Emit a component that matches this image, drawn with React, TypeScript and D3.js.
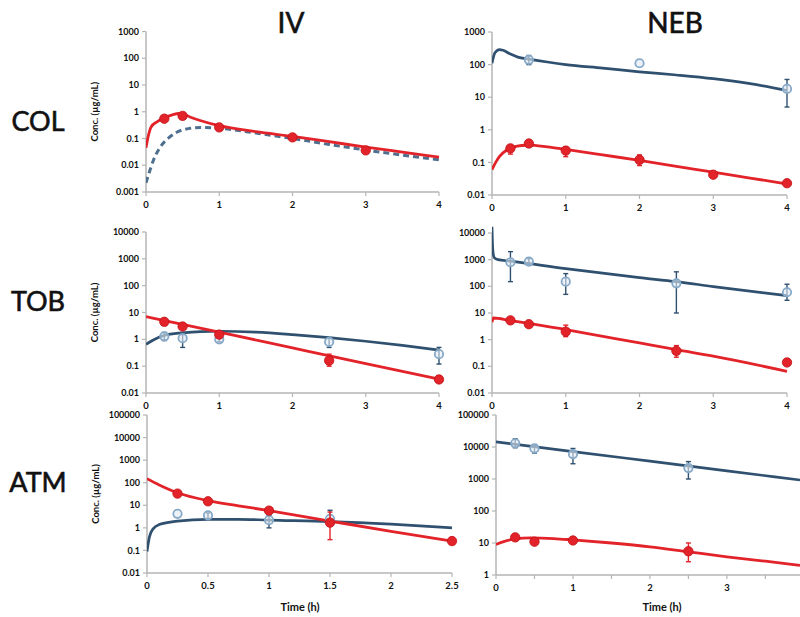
import React from "react";
import * as d3 from "d3";

type Pt = [number, number];
type Obs = [number, number, number?, number?];

// ---------- COL ----------
const colIvRedCurve: Pt[] = [[0, 0.045], [0.03, 0.12], [0.07, 0.27], [0.15, 0.42], [0.25, 0.6], [0.35, 0.75], [0.45, 0.86], [0.5, 0.84], [0.6, 0.64], [0.75, 0.46], [1, 0.3], [1.5, 0.18], [2, 0.12], [2.5, 0.076], [3, 0.048], [3.5, 0.031], [4, 0.02]];
const colIvDashCurve: Pt[] = [[0, 0.0022], [0.05, 0.006], [0.1, 0.015], [0.2, 0.05], [0.3, 0.1], [0.4, 0.16], [0.5, 0.21], [0.6, 0.24], [0.75, 0.26], [1, 0.24], [1.5, 0.16], [2, 0.1], [2.5, 0.06], [3, 0.037], [3.5, 0.024], [4, 0.016]];
const colIvRedObs: Obs[] = [[0.25, 0.55], [0.5, 0.7], [1, 0.26], [2, 0.11], [3, 0.036]];
const colNebBlueCurve: Pt[] = [[0, 110], [0.04, 230], [0.1, 290], [0.15, 275], [0.25, 210], [0.35, 170], [0.5, 148], [0.75, 120], [1, 100], [1.5, 78], [2, 60], [2.5, 48], [3, 37], [3.5, 26], [4, 16]];
const colNebRedCurve: Pt[] = [[0, 0.06], [0.05, 0.1], [0.1, 0.15], [0.2, 0.24], [0.3, 0.3], [0.4, 0.33], [0.5, 0.34], [0.75, 0.3], [1, 0.25], [1.5, 0.17], [2, 0.115], [2.5, 0.075], [3, 0.05], [3.5, 0.033], [4, 0.022]];
const colNebBlueObs: Obs[] = [[0.5, 140, 100, 190], [2, 110], [4, 18, 5, 35]];
const colNebRedObs: Obs[] = [[0.25, 0.27, 0.18, 0.34], [0.5, 0.38, 0.3, 0.45], [1, 0.23, 0.15, 0.3], [2, 0.12, 0.08, 0.17], [3, 0.042], [4, 0.023]];

// ---------- TOB ----------
const tobIvRedCurve: Pt[] = [[0, 7], [1, 1.85], [2, 0.48], [3, 0.125], [4, 0.033]];
const tobIvBlueCurve: Pt[] = [[0, 0.65], [0.1, 0.95], [0.25, 1.4], [0.5, 1.75], [0.75, 1.95], [1, 2.0], [1.5, 1.85], [2, 1.5], [2.5, 1.15], [3, 0.85], [3.5, 0.6], [4, 0.4]];
const tobIvRedObs: Obs[] = [[0.25, 4.5], [0.5, 3.0], [1, 1.5], [2.5, 0.16, 0.1, 0.28], [4, 0.032]];
const tobIvBlueObs: Obs[] = [[0.25, 1.3, 0.9, 1.8], [0.5, 1.1, 0.5, 1.8], [1, 1.0, 0.8, 1.3], [2.5, 0.8, 0.5, 1.1], [4, 0.28, 0.12, 0.5]];
const tobNebBlueCurve: Pt[] = [[0, 17000], [0.01, 2500], [0.03, 1200], [0.08, 1000], [0.25, 880], [1, 460], [2, 212], [2.5, 150], [3, 98], [4, 45]];
const tobNebRedCurve: Pt[] = [[0, 4.5], [0.02, 6.5], [0.25, 5.2], [0.5, 4.1], [1, 2.4], [2, 0.75], [2.5, 0.42], [3, 0.24], [4, 0.065]];
const tobNebBlueObs: Obs[] = [[0.25, 800, 150, 2000], [0.5, 850, 650, 1100], [1, 150, 50, 300], [2.5, 130, 10, 350], [4, 60, 30, 120]];
const tobNebRedObs: Obs[] = [[0.25, 5.3], [0.5, 3.8], [1, 2.0, 1.3, 3.5], [2.5, 0.38, 0.22, 0.6], [4, 0.14]];

// ---------- ATM ----------
const atmIvRedCurve: Pt[] = [[0, 150], [0.1, 80], [0.25, 36], [0.5, 16], [0.75, 9.5], [1, 5.8], [1.5, 2.0], [2, 0.7], [2.5, 0.26]];
const atmIvBlueCurve: Pt[] = [[0, 0.09], [0.02, 0.4], [0.05, 0.9], [0.1, 1.4], [0.25, 2.0], [0.5, 2.4], [0.75, 2.4], [1, 2.2], [1.5, 1.9], [2, 1.45], [2.5, 1.0]];
const atmIvRedObs: Obs[] = [[0.25, 33], [0.5, 15], [1, 5.8], [1.5, 1.7, 0.3, 5], [2.5, 0.26]];
const atmIvBlueObs: Obs[] = [[0.25, 4.2], [0.5, 3.6, 2.6, 4.6], [1, 2.2, 1.0, 3.5], [1.5, 2.5, 1.2, 6]];
const atmNebBlueCurve: Pt[] = [[0, 14500], [1, 7200], [2, 3600], [3, 1800], [3.95, 930]];
const atmNebRedCurve: Pt[] = [[0, 9], [0.1, 11], [0.25, 13.5], [0.45, 14.5], [0.75, 13.8], [1, 12.5], [1.5, 10], [2, 7.6], [2.5, 5.3], [3, 3.7], [3.5, 2.7], [3.95, 2.0]];
const atmNebBlueObs: Obs[] = [[0.25, 13000, 9500, 18000], [0.5, 9000, 6500, 11000], [1, 6000, 3000, 9000], [2.5, 2200, 1000, 3500]];
const atmNebRedObs: Obs[] = [[0.25, 15, 12, 18], [0.5, 11, 9, 13], [1, 12], [2.5, 5.5, 2.6, 10]];

// ---------- labels ----------
const rowLabels = ["COL", "TOB", "ATM"];
const colLabels = ["IV", "NEB"];
const xTicks4 = [0, 1, 2, 3, 4];
const xTicksAtmIv = [0, 0.5, 1, 1.5, 2, 2.5];
const xTicksAtmNeb = [0, 0.5, 1, 1.5, 2, 2.5, 3, 3.5];
const xLabelsAtmNeb = [0, 1, 2, 3];

const RED = "#e3232a";
const BLUE = "#30506f";
const LBLUE = "#86a9c8";
const AXIS = "#b5b5b5";
const FONT = "Lato, 'Open Sans', sans-serif";

interface Panel {
  xd: [number, number]; xr: [number, number];
  yd: [number, number]; yr: [number, number];
  xTicks: number[]; xLabels: number[];
  yTitle: boolean;
  red: Pt[]; blue: Pt[]; blueDashed?: boolean;
  redObs: Obs[]; blueObs: Obs[];
}

const panels: Panel[] = [
  { xd: [0, 4], xr: [146, 439], yd: [0.001, 1000], yr: [192, 31.5], xTicks: xTicks4, xLabels: xTicks4, yTitle: true, red: colIvRedCurve, blue: colIvDashCurve, blueDashed: true, redObs: colIvRedObs, blueObs: [] },
  { xd: [0, 4], xr: [492, 787], yd: [0.01, 1000], yr: [195, 32], xTicks: xTicks4, xLabels: xTicks4, yTitle: false, red: colNebRedCurve, blue: colNebBlueCurve, redObs: colNebRedObs, blueObs: colNebBlueObs },
  { xd: [0, 4], xr: [146, 439], yd: [0.01, 10000], yr: [393, 232], xTicks: xTicks4, xLabels: xTicks4, yTitle: true, red: tobIvRedCurve, blue: tobIvBlueCurve, redObs: tobIvRedObs, blueObs: tobIvBlueObs },
  { xd: [0, 4], xr: [492, 787], yd: [0.01, 10000], yr: [393, 233], xTicks: xTicks4, xLabels: xTicks4, yTitle: false, red: tobNebRedCurve, blue: tobNebBlueCurve, redObs: tobNebRedObs, blueObs: tobNebBlueObs },
  { xd: [0, 2.5], xr: [147, 452], yd: [0.01, 100000], yr: [573, 415], xTicks: xTicksAtmIv, xLabels: xTicksAtmIv, yTitle: true, red: atmIvRedCurve, blue: atmIvBlueCurve, redObs: atmIvRedObs, blueObs: atmIvBlueObs },
  { xd: [0, 3.95], xr: [496, 800], yd: [1, 100000], yr: [575, 415], xTicks: xTicksAtmNeb, xLabels: xLabelsAtmNeb, yTitle: false, red: atmNebRedCurve, blue: atmNebBlueCurve, redObs: atmNebRedObs, blueObs: atmNebBlueObs },
];

function PanelView({ p, idx }: { p: Panel; idx: number }) {
  const x = d3.scaleLinear().domain(p.xd).range(p.xr);
  const y = d3.scaleLog().domain(p.yd).range(p.yr);
  const line = d3.line<Pt>().x((d) => x(d[0])).y((d) => y(d[1])).curve(d3.curveMonotoneX);
  const decades: number[] = [];
  for (let e = Math.round(Math.log10(p.yd[0])); e <= Math.round(Math.log10(p.yd[1])); e++) decades.push(Math.pow(10, e));
  const x0 = p.xr[0];
  const yb = p.yr[0];
  const cy = (p.yr[0] + p.yr[1]) / 2;
  const clipId = `clip${idx}`;
  const obs = (list: Obs[], color: string, blue: boolean) =>
    list.map((o, i) => (
      <g key={i}>
        {o[2] !== undefined && o[3] !== undefined && (
          <g stroke={blue ? BLUE : RED} strokeWidth={1.4}>
            <line x1={x(o[0])} x2={x(o[0])} y1={y(o[2])} y2={y(o[3])} />
            <line x1={x(o[0]) - 2.5} x2={x(o[0]) + 2.5} y1={y(o[2])} y2={y(o[2])} />
            <line x1={x(o[0]) - 2.5} x2={x(o[0]) + 2.5} y1={y(o[3])} y2={y(o[3])} />
          </g>
        )}
        {blue ? (
          <circle cx={x(o[0])} cy={y(o[1])} r={4.2} fill="#dfe9f3" fillOpacity={0.6} stroke={LBLUE} strokeWidth={1.8} />
        ) : (
          <circle cx={x(o[0])} cy={y(o[1])} r={4.7} fill={color} stroke="#c01015" strokeWidth={0.8} />
        )}
      </g>
    ));
  return (
    <g>
      <defs>
        <clipPath id={clipId}>
          <rect x={p.xr[0]} y={p.yr[1] - 8} width={p.xr[1] - p.xr[0] + 2} height={p.yr[0] - p.yr[1] + 8} />
        </clipPath>
      </defs>
      <line x1={x0} x2={x0} y1={p.yr[1]} y2={yb} stroke={AXIS} strokeWidth={1.5} />
      <line x1={x0} x2={p.xr[1]} y1={yb} y2={yb} stroke={AXIS} strokeWidth={1.5} />
      {decades.map((d) => (
        <g key={d}>
          <line x1={x0 - 4} x2={x0} y1={y(d)} y2={y(d)} stroke={AXIS} strokeWidth={1.2} />
          <text x={x0 - 7} y={y(d)} dy="0.35em" textAnchor="end" fontSize={9} fontWeight="bold" fontFamily={FONT} fill="#111">
            {String(d)}
          </text>
        </g>
      ))}
      {p.xTicks.map((t) => (
        <line key={t} x1={x(t)} x2={x(t)} y1={yb} y2={yb + 4} stroke={AXIS} strokeWidth={1.2} />
      ))}
      {p.xLabels.map((t) => (
        <text key={t} x={x(t)} y={yb + 16} textAnchor="middle" fontSize={9.5} fontWeight="bold" fontFamily={FONT} fill="#111">
          {String(t)}
        </text>
      ))}
      {p.yTitle && (
        <text transform={`translate(${x0 - 48},${cy}) rotate(-90)`} textAnchor="middle" fontSize={9.5} fontWeight="bold" fontFamily={FONT} fill="#111">
          Conc. (µg/mL)
        </text>
      )}
      <g clipPath={`url(#${clipId})`}>
        {p.blueDashed ? (
          <path d={line(p.blue) || ""} fill="none" stroke="#4f6f8f" strokeWidth={3} strokeDasharray="6,4" />
        ) : (
          <path d={line(p.blue) || ""} fill="none" stroke={BLUE} strokeWidth={2.7} />
        )}
        <path d={line(p.red) || ""} fill="none" stroke={RED} strokeWidth={2.8} />
      </g>
      {obs(p.blueObs, LBLUE, true)}
      {obs(p.redObs, RED, false)}
    </g>
  );
}

export default function App() {
  const rowY = [131, 311, 492];
  const colX = [291, 675];
  return (
    <svg width={800} height={617} style={{ position: "absolute", left: 0, top: 0, background: "#fff" }}>
      <rect width={800} height={617} fill="#fff" />
      {rowLabels.map((r, i) => (
        <text key={r} x={38} y={rowY[i]} textAnchor="middle" fontSize={27} fontFamily={FONT} fill="#111" stroke="#111" strokeWidth={0.6}>
          {r}
        </text>
      ))}
      {colLabels.map((c, i) => (
        <text key={c} x={colX[i]} y={33} textAnchor="middle" fontSize={28} fontFamily={FONT} fill="#111" stroke="#111" strokeWidth={0.6}>
          {c}
        </text>
      ))}
      {panels.map((p, i) => (
        <PanelView key={i} p={p} idx={i} />
      ))}
      <text x={300} y={611} textAnchor="middle" fontSize={11} fontWeight="bold" fontFamily={FONT} fill="#111">Time (h)</text>
      <text x={662} y={611} textAnchor="middle" fontSize={11} fontWeight="bold" fontFamily={FONT} fill="#111">Time (h)</text>
    </svg>
  );
}
